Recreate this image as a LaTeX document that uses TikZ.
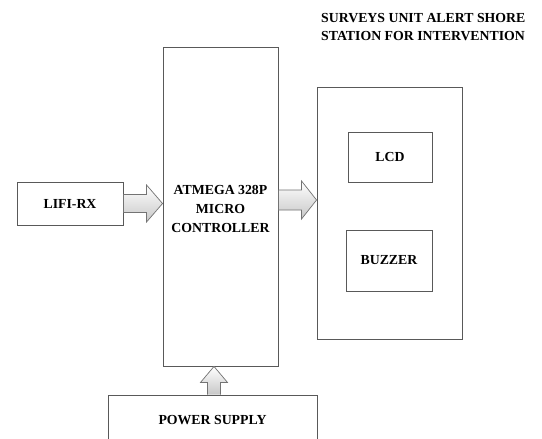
\documentclass[tikz,border=0pt]{standalone}
\usepackage{fontspec}
\setmainfont{Liberation Serif}
\usetikzlibrary{calc}
\tikzset{
  box/.style={draw=black!65, line width=0.9pt, fill=white, inner sep=0pt, align=center, font=\bfseries\fontsize{13.8}{19}\selectfont},
  blk/.style={draw=black!55, line width=0.7pt, top color=white, bottom color=black!22, line join=miter}
}
\begin{document}
\begin{tikzpicture}[x=1pt,y=-1pt]
\useasboundingbox (0,0) rectangle (542,439);
\clip (0,0) rectangle (542,439);
\fill[white] (0,0) rectangle (542,439);
\node[box, minimum width=115pt, minimum height=319pt] (mcu) at (220.5,206.5) {};
\node[font=\bfseries\fontsize{13.8}{19}\selectfont, align=center, inner sep=0pt] (mcutext) at (220.5,209) {ATMEGA 328P\\MICRO\\CONTROLLER};
\node[box, minimum width=106pt, minimum height=43pt] (lifi) at (70,203.5) {LIFI-RX};
\node[box, minimum width=145pt, minimum height=252pt] (out) at (389.5,213) {};
\node[box, minimum width=84pt, minimum height=50pt] (lcd) at (390,157) {LCD};
\node[box, minimum width=86pt, minimum height=61pt] (buz) at (389,260.5) {BUZZER};
\node[box, minimum width=209pt, minimum height=50pt] (pwr) at (212.5,420) {POWER SUPPLY};
\node[font=\bfseries\fontsize{13.8}{18}\selectfont, align=left, anchor=north west, inner sep=0pt] (title) at (321,13) {SURVEYS UNIT ALERT SHORE\\STATION FOR INTERVENTION};
% arrow LIFI -> MCU
\coordinate (t1) at (lifi.east -| mcu.west);
\draw[blk] ($(lifi.east)+(0,-9)$) -- ($(t1)+(-16,-9)$) -- ($(t1)+(-16,-18.5)$) -- (t1) -- ($(t1)+(-16,18.5)$) -- ($(t1)+(-16,9)$) -- ($(lifi.east)+(0,9)$) -- cycle;
% arrow MCU -> output
\coordinate (s2) at (mcu.east |- 0,200);
\coordinate (t2) at (out.west |- s2);
\draw[blk] ($(s2)+(0,-10)$) -- ($(t2)+(-15,-10)$) -- ($(t2)+(-15,-19)$) -- (t2) -- ($(t2)+(-15,19)$) -- ($(t2)+(-15,10)$) -- ($(s2)+(0,10)$) -- cycle;
% arrow power -> MCU
\coordinate (s3) at (pwr.north -| 214,0);
\coordinate (t3) at (s3 |- mcu.south);
\draw[blk] ($(s3)+(-6.5,0)$) -- ($(t3)+(-6.5,16)$) -- ($(t3)+(-13.5,16)$) -- (t3) -- ($(t3)+(13.5,16)$) -- ($(t3)+(6.5,16)$) -- ($(s3)+(6.5,0)$);
\end{tikzpicture}
\end{document}
